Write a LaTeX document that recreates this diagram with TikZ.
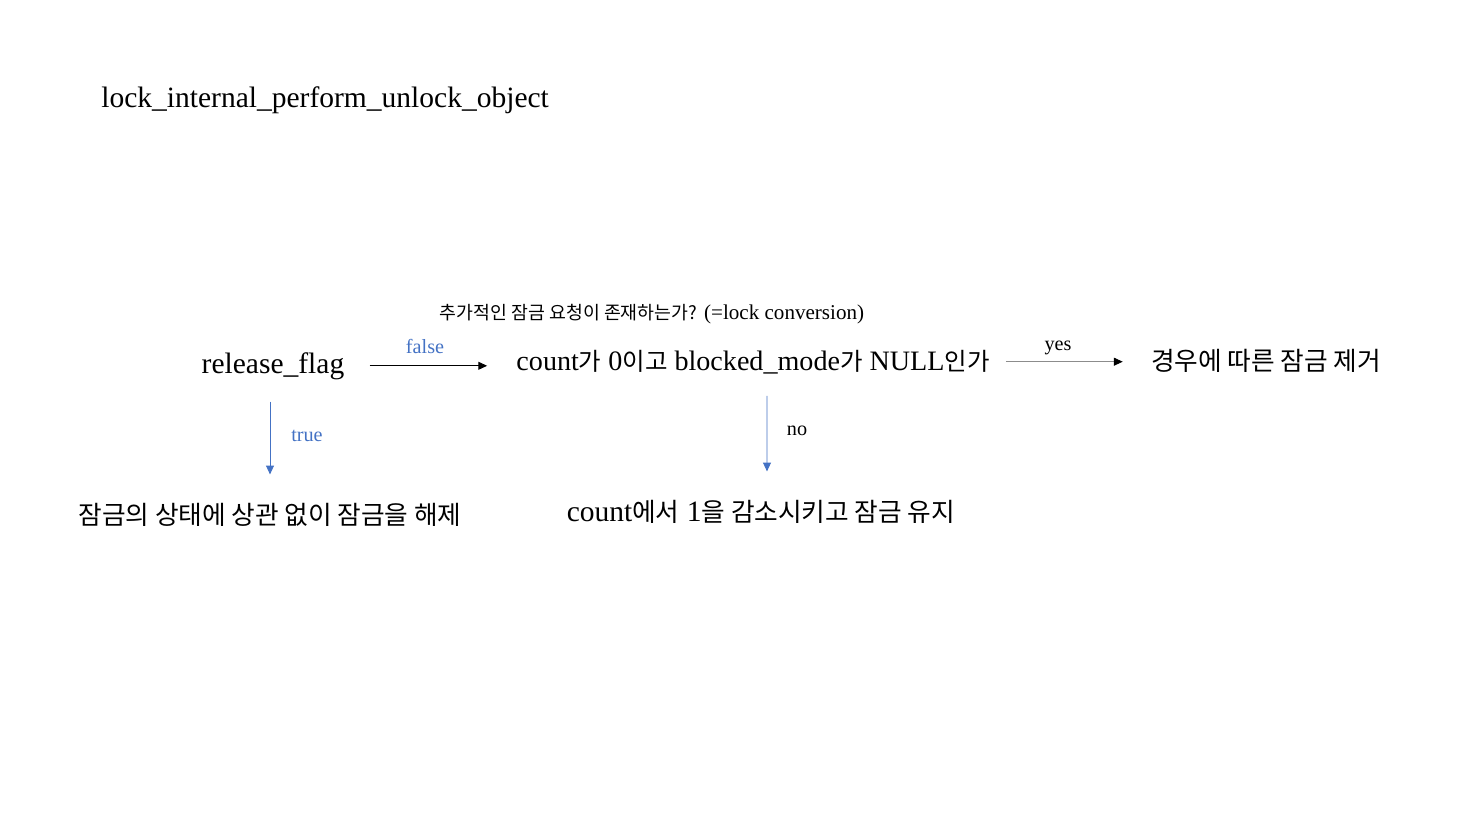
\documentclass[tikz,border=0pt]{standalone}
\usepackage{fontspec}
\setmainfont{Liberation Serif}
\newfontfamily\kr[Scale=0.87]{Noto Sans CJK KR}
\usetikzlibrary{arrows.meta,positioning}
\definecolor{flowblue}{RGB}{68,114,196}
\definecolor{flowgray}{RGB}{140,140,140}

\begin{document}
\begin{tikzpicture}[x=0.02cm,y=-0.02cm,
	big/.style={inner sep=0pt,font=\fontsize{16.8}{19}\selectfont},
	small/.style={inner sep=0pt,font=\fontsize{11.5}{13}\selectfont},
	tip/.style={-{Triangle[length=5pt,width=4.5pt]},line width=0.5pt}]
	\useasboundingbox (0,0) rectangle (1467,825);
	% title
	\node[big,anchor=base west] (title) at (101,107) {lock\_internal\_perform\_unlock\_object};
	% main row
	\node[big,anchor=base] (flag) at (273,373) {release\_flag};
	\node[big,anchor=base,font=\fontsize{16}{18}\selectfont] (cond) at (753,370) {count{\kr 가} 0{\kr 이고} blocked\_mode{\kr 가} NULL{\kr 인가}};
	\node[big,anchor=base] (remove) at (1266,370) {\kr 경우에 따른 잠금 제거};
	\node[small,anchor=base,font=\fontsize{12}{14}\selectfont] (ask) at (652,319) {{\kr 추가적인 잠금 요청이 존재하는가?} (=lock conversion)};
	% results
	\node[big,anchor=base] (freeall) at (270,524) {\kr 잠금의 상태에 상관 없이 잠금을 해제};
	\node[big,anchor=base] (keep) at (761,521) {count{\kr 에서} 1{\kr 을 감소시키고 잠금 유지}};
	% connectors
	\draw[tip] ([xshift=25*0.569pt]flag.east) -- ([xshift=-29*0.569pt]cond.west |- flag.east);
	\node[small,text=flowblue] (falselbl) at (425,346) {false};
	\draw[-{Triangle[length=5pt,width=4.5pt,black]},line width=0.5pt,flowgray] ([xshift=16*0.569pt]cond.east) -- ([xshift=-28*0.569pt]remove.west |- cond.east);
	\node[small] (yeslbl) at (1058,348) {yes};
	\draw[tip,flowblue] ([yshift=-22*0.569pt]flag.south -| freeall.north) -- ([yshift=28*0.569pt]freeall.north);
	\node[small,text=flowblue] (truelbl) at (307,436) {true};
	\draw[tip,flowblue] ([yshift=-22*0.569pt]cond.south -| 767,0) -- ([xshift=6*0.569pt,yshift=28*0.569pt]keep.north);
	\node[small] (nolbl) at (797,431) {no};
\end{tikzpicture}
\end{document}
